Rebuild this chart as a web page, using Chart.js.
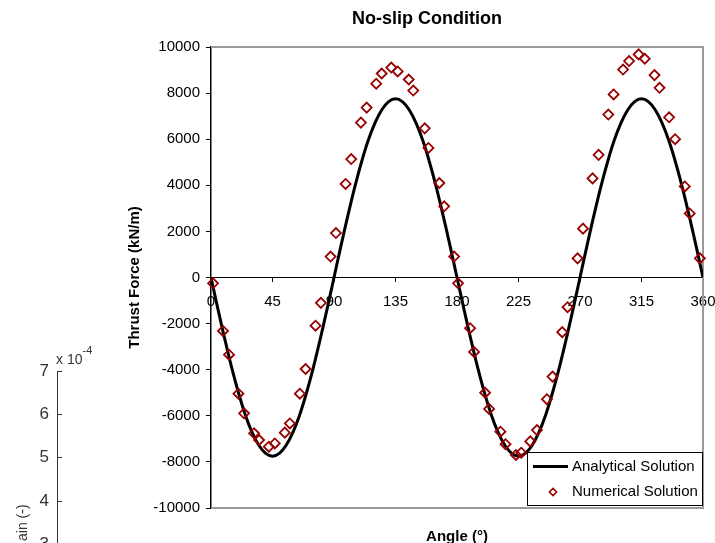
<!DOCTYPE html>
<html>
<head>
<meta charset="utf-8">
<title>No-slip Condition</title>
<script src="https://cdn.jsdelivr.net/npm/chart.js@4"></script>
<style>
  html, body { margin: 0; padding: 0; background: #fff; }
  body { width: 715px; height: 543px; overflow: hidden; position: relative;
         font-family: 'Liberation Sans', Arial, sans-serif; }
  #chart { position: absolute; left: 0; top: 0; }
  .frag { position: absolute; color: #333; white-space: nowrap; line-height: 1; }
</style>
</head>
<body>
<canvas id="chart" width="715" height="543"></canvas>
<div id="frag"></div>
<script>
/* Chart text */
const chartTitle = 'No-slip Condition';
const xTitle = 'Angle (°)';
const yTitle = 'Thrust Force (kN/m)';

/* Analytical solution, every 5 degrees */
const analyticAngles = [
    0, 5, 10, 15, 20, 25, 30, 35, 40, 45, 50, 55, 60, 65, 70, 75, 80, 85,
    90, 95, 100, 105, 110, 115, 120, 125, 130, 135, 140, 145, 150, 155, 160, 165, 170, 175,
    180, 185, 190, 195, 200, 205, 210, 215, 220, 225, 230, 235, 240, 245, 250, 255, 260, 265,
    270, 275, 280, 285, 290, 295, 300, 305, 310, 315, 320, 325, 330, 335, 340, 345, 350, 355, 360
];
const analyticForce = [
    0, -1350, -2650, -3880, -4980, -5940, -6710, -7280, -7630, -7750, -7630, -7280, -6710, -5940, -4980, -3880, -2650, -1350,
    0, 1350, 2650, 3880, 4980, 5940, 6710, 7280, 7630, 7750, 7630, 7280, 6710, 5940, 4980, 3880, 2650, 1350,
    0, -1350, -2650, -3880, -4980, -5940, -6710, -7280, -7630, -7750, -7630, -7280, -6710, -5940, -4980, -3880, -2650, -1350,
    0, 1350, 2650, 3880, 4980, 5940, 6710, 7280, 7630, 7750, 7630, 7280, 6710, 5940, 4980, 3880, 2650, 1350, 0
];

/* Numerical solution (diamonds) */
const numericAngles = [
    1.5, 8.8, 13.2, 20.1, 24.2, 31.5, 35.2, 42.3, 46.7, 54, 57.7, 65, 69.2, 76.5, 80.4,
    87.5, 91.4, 98.5, 102.6, 109.7, 113.9, 120.9, 124.9, 131.9, 136.6, 144.7, 148, 156.4, 159.1, 167.1, 170.6, 177.9,
    180.8, 189.6, 192.5, 200.6, 203.5, 211.8, 215.5, 223.1, 227, 233.6, 238.5, 245.8, 249.9, 257, 260.9,
    268.2, 272.2, 279.2, 283.6, 290.7, 294.6, 301.5, 305.9, 312.9, 317.4, 324.5, 328.2, 335.2, 339.6, 346.7, 350.3, 357.7
];
const numericForce = [
    -250, -2320, -3350, -5040, -5890, -6760, -7050, -7340, -7200, -6730, -6330, -5040, -3970, -2090, -1100,
    910, 1930, 4060, 5140, 6720, 7370, 8410, 8850, 9110, 8940, 8590, 8110, 6470, 5620, 4100, 3090, 910,
    -250, -2200, -3230, -5000, -5700, -6690, -7230, -7700, -7600, -7110, -6620, -5280, -4300, -2370, -1290,
    830, 2120, 4300, 5320, 7070, 7940, 9020, 9390, 9680, 9490, 8780, 8230, 6950, 6000, 3950, 2780, 830
];

/* Axis ticks */
const xTicks = [0, 45, 90, 135, 180, 225, 270, 315, 360];
const yTicks = [-10000, -8000, -6000, -4000, -2000, 0, 2000, 4000, 6000, 8000, 10000];

/* Cut-off neighbour figure on the left edge */
const strainTicks = ['7', '6', '5', '4', '3'];
const strainLabel = 'ain (-)';

const FONT = "'Liberation Sans', Arial, sans-serif";
Chart.defaults.font.family = FONT;
Chart.defaults.color = '#000';

function toPoints(xs, ys) {
    return xs.map((x, i) => ({ x, y: ys[i] }));
}

/* Title centred over the whole Excel chart object */
const titlePlugin = {
    id: 'plotTitle',
    afterDraw(chart) {
        const ctx = chart.ctx;
        ctx.save();
        ctx.font = 'bold 18px ' + FONT;
        ctx.fillStyle = '#000';
        ctx.textAlign = 'center';
        ctx.textBaseline = 'middle';
        ctx.fillText(chartTitle, 427, 19);
        ctx.restore();
    }
};

/* Grey plot-area frame (top, right, bottom) */
const framePlugin = {
    id: 'frame',
    beforeDatasetsDraw(chart) {
        const { left, top, right, bottom } = chart.chartArea;
        const ctx = chart.ctx;
        ctx.save();
        ctx.strokeStyle = '#9a9a9a';
        ctx.lineWidth = 2;
        ctx.beginPath();
        ctx.moveTo(left, top);
        ctx.lineTo(right, top);
        ctx.lineTo(right, bottom);
        ctx.lineTo(left, bottom);
        ctx.stroke();
        ctx.restore();
    }
};

/* Boxed legend in the lower right corner of the plot */
const legendPlugin = {
    id: 'boxLegend',
    afterDatasetsDraw(chart) {
        const ctx = chart.ctx;
        const ds = chart.data.datasets;
        const line = ds.find(d => d.showLine);
        const pts = ds.find(d => !d.showLine);
        const bx = 527, by = 452, bw = 175, bh = 53;
        ctx.save();
        ctx.fillStyle = '#fff';
        ctx.fillRect(bx, by, bw, bh);
        ctx.strokeStyle = '#000';
        ctx.lineWidth = 1;
        ctx.strokeRect(bx + 0.5, by + 0.5, bw, bh);

        // line sample
        ctx.strokeStyle = line.borderColor;
        ctx.lineWidth = line.borderWidth;
        ctx.beginPath();
        ctx.moveTo(533, 466.5);
        ctx.lineTo(568, 466.5);
        ctx.stroke();

        // diamond sample
        const cx = 553, cy = 492, r = 3.6;
        ctx.strokeStyle = pts.borderColor;
        ctx.lineWidth = 1.6;
        ctx.beginPath();
        ctx.moveTo(cx, cy - r);
        ctx.lineTo(cx + r, cy);
        ctx.lineTo(cx, cy + r);
        ctx.lineTo(cx - r, cy);
        ctx.closePath();
        ctx.stroke();

        ctx.fillStyle = '#000';
        ctx.font = '15px ' + FONT;
        ctx.textAlign = 'left';
        ctx.textBaseline = 'middle';
        ctx.fillText(line.label, 572, 467);
        ctx.fillText(pts.label, 572, 492);
        ctx.restore();
    }
};

function buildChart() {
    const ctx = document.getElementById('chart').getContext('2d');
    return new Chart(ctx, {
        type: 'scatter',
        data: {
            datasets: [
                {
                    label: 'Analytical Solution',
                    data: toPoints(analyticAngles, analyticForce),
                    showLine: true,
                    borderColor: '#000',
                    borderWidth: 3,
                    pointRadius: 0,
                    tension: 0.35,
                    order: 1
                },
                {
                    label: 'Numerical Solution',
                    data: toPoints(numericAngles, numericForce),
                    showLine: false,
                    pointStyle: 'rectRot',
                    pointRadius: 5,
                    borderColor: '#990000',
                    backgroundColor: 'rgba(0,0,0,0)',
                    pointBorderWidth: 1.8,
                    clip: false,
                    order: 0
                }
            ]
        },
        options: {
            responsive: false,
            animation: false,
            events: [],
            layout: { padding: { left: 122, top: 47, right: 12, bottom: 0 } },
            plugins: {
                legend: { display: false },
                title: { display: false },
                tooltip: { enabled: false }
            },
            scales: {
                x: {
                    type: 'linear',
                    position: { y: 0 },
                    min: 0,
                    max: 360,
                    afterBuildTicks: s => { s.ticks = xTicks.map(v => ({ value: v })); },
                    // the end labels may hang over the plot edge, as in Excel
                    afterFit: s => { s.paddingLeft = 0; s.paddingRight = 0; },
                    ticks: {
                        autoSkip: false,
                        maxRotation: 0,
                        padding: 11,
                        color: '#000',
                        font: { size: 15 },
                        callback: v => String(v)
                    },
                    grid: { drawOnChartArea: false, color: '#000', tickLength: 4 },
                    border: { color: '#000', width: 1 }
                },
                xb: {
                    type: 'linear',
                    position: 'bottom',
                    min: 0,
                    max: 360,
                    ticks: { display: false },
                    grid: { display: false, drawTicks: false },
                    border: { display: false },
                    title: {
                        display: true,
                        text: xTitle,
                        color: '#000',
                        font: { size: 15, weight: 'bold' },
                        padding: { top: 0, bottom: -3 }
                    },
                    afterFit: s => { s.height = 35; }
                },
                y: {
                    type: 'linear',
                    position: 'left',
                    min: -10000,
                    max: 10000,
                    afterBuildTicks: s => { s.ticks = yTicks.map(v => ({ value: v })); },
                    ticks: {
                        padding: 6,
                        color: '#000',
                        font: { size: 15 },
                        callback: v => String(v)
                    },
                    grid: { drawOnChartArea: false, color: '#000', tickLength: 5 },
                    border: { color: '#000', width: 1.5 },
                    title: {
                        display: true,
                        text: yTitle,
                        color: '#000',
                        font: { size: 15, weight: 'bold' },
                        padding: { top: 4, bottom: 4 }
                    },
                    afterFit: s => { s.width = 89; }
                }
            }
        },
        plugins: [framePlugin, legendPlugin, titlePlugin]
    });
}

/* Left-edge fragment of the neighbouring strain plot, drawn as HTML text */
function buildFragment() {
    const host = document.getElementById('frag');
    const axis = document.createElement('div');
    axis.className = 'frag';
    axis.style.cssText = 'left:57px;top:371px;width:1px;height:180px;background:#333;';
    host.appendChild(axis);

    strainTicks.forEach((t, i) => {
        const y = 371 + i * 43.2;
        const tick = document.createElement('div');
        tick.className = 'frag';
        tick.style.cssText = `left:57px;top:${y}px;width:5px;height:1px;background:#333;`;
        host.appendChild(tick);

        const lab = document.createElement('div');
        lab.className = 'frag';
        lab.textContent = t;
        lab.style.cssText = `right:${715 - 49}px;top:${y - 9}px;font-size:17px;`;
        host.appendChild(lab);
    });

    const exp = document.createElement('div');
    exp.className = 'frag';
    exp.innerHTML = 'x 10<sup style="font-size:11px;position:relative;top:-4px;">-4</sup>';
    exp.style.cssText = 'left:56px;top:349px;font-size:14px;';
    host.appendChild(exp);

    const ylab = document.createElement('div');
    ylab.className = 'frag';
    ylab.textContent = strainLabel;
    ylab.style.cssText = 'left:15px;top:541px;font-size:14px;transform-origin:0 0;transform:rotate(-90deg);';
    host.appendChild(ylab);
}

window.addEventListener('load', () => {
    buildChart();
    buildFragment();
});
</script>
</body>
</html>
